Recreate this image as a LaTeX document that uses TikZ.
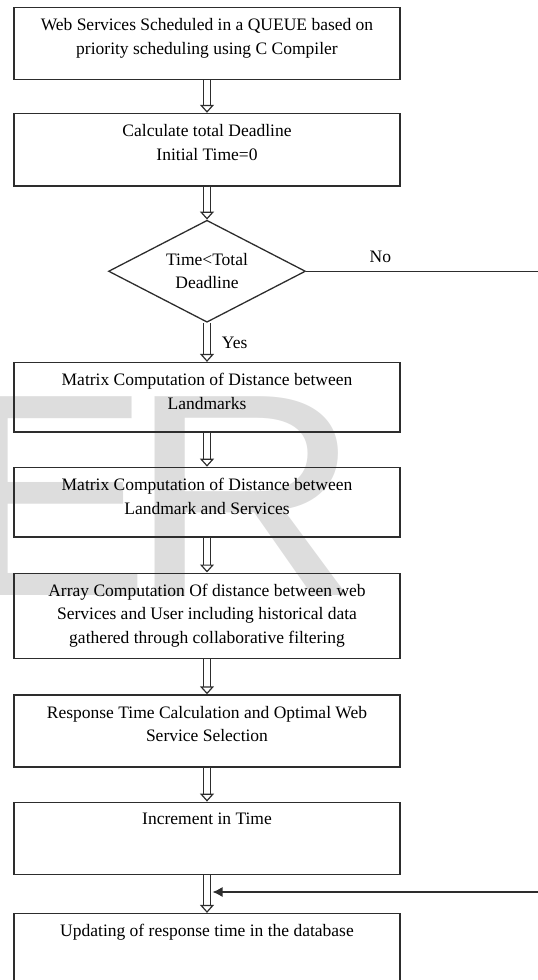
\documentclass[tikz,border=0pt]{standalone}
\usepackage{fontspec}
\setmainfont{Liberation Serif}
\newfontfamily\marksans{Liberation Sans}
\usetikzlibrary{positioning, arrows.meta, shapes.geometric}

\definecolor{markgray}{RGB}{221,221,221}
\definecolor{framegray}{RGB}{45,45,45}
\newcommand{\steptext}[2]{\parbox[t][#1][t]{370pt}{\centering #2}}

\begin{document}
\begin{tikzpicture}[
    x=1pt, y=1pt,
    node distance=33pt,
    font=\fontsize{17.5}{23.5}\selectfont,
    stepbox/.style={
        draw=framegray,
        line width=1.3pt,
        minimum width=386pt,
        inner xsep=0pt,
        inner ysep=11pt
    },
    cond/.style={
        diamond,
        draw=framegray,
        line width=1.3pt,
        aspect=1.93,
        minimum width=197pt,
        minimum height=102pt,
        inner sep=0pt,
        align=center
    },
    wmark/.style={
        anchor=base west,
        inner sep=0pt,
        text=markgray,
        font=\marksans\fontsize{289}{289}\selectfont
    },
    flow/.style={double=white, double distance=6.5pt, line width=1.2pt, draw=framegray,
        -{Triangle[open, width=14pt, length=8pt, line width=1.2pt]}},
    link/.style={draw=framegray, line width=1.3pt},
    back/.style={link, -{Latex[length=10pt, width=10pt]}}
]

\useasboundingbox (0,0) rectangle (538,-980);
\clip (0,0) rectangle (538,-980);
\coordinate (edge) at (538,0);

% watermark behind the chart
\node[wmark] (wE) at (-43,-595) {E};
\node[wmark, xscale=1.12] (wR) at (128,-595) {R};

\node[stepbox, anchor=north] (web) at (207,-7) {\steptext{49.5pt}{Web Services Scheduled in a QUEUE based on\\ priority scheduling using C Compiler}};
\node[stepbox, below=of web] (deadline) {\steptext{50.5pt}{Calculate total Deadline\\ Initial Time=0}};
\node[cond, below=of deadline] (test) {Time<Total\\ Deadline};
\node[stepbox, below=39pt of test] (landdist) {\steptext{47.5pt}{Matrix Computation of Distance between\\ Landmarks}};
\node[stepbox, below=34pt of landdist] (svcdist) {\steptext{47.5pt}{Matrix Computation of Distance between\\ Landmark and Services}};
\node[stepbox, below=35pt of svcdist] (userdist) {\steptext{63.5pt}{Array Computation Of distance between web\\ Services and User including historical data\\ gathered through collaborative filtering}};
\node[stepbox, below=35pt of userdist] (select) {\steptext{50pt}{Response Time Calculation and Optimal Web\\ Service Selection}};
\node[stepbox, below=34pt of select] (incr) {\steptext{50pt}{Increment in Time}};
\node[stepbox, below=38pt of incr] (update) {\steptext{80pt}{Updating of response time in the database}};

\draw[flow] (web) -- (deadline);
\draw[flow] (deadline) -- (test);
\draw[flow] (test) -- node[right, xshift=11pt] {Yes} (landdist);
\draw[flow] (landdist) -- (svcdist);
\draw[flow] (svcdist) -- (userdist);
\draw[flow] (userdist) -- (select);
\draw[flow] (select) -- (incr);
\draw[flow] (incr) -- coordinate[pos=0.45] (join) (update);

% loop exit, running off the page
\draw[link] (test) -- node[above, pos=0.32, yshift=5pt] {No} (test.east -| edge);
\draw[back] (join -| edge) -- ([xshift=5.5pt]join);

\end{tikzpicture}
\end{document}
